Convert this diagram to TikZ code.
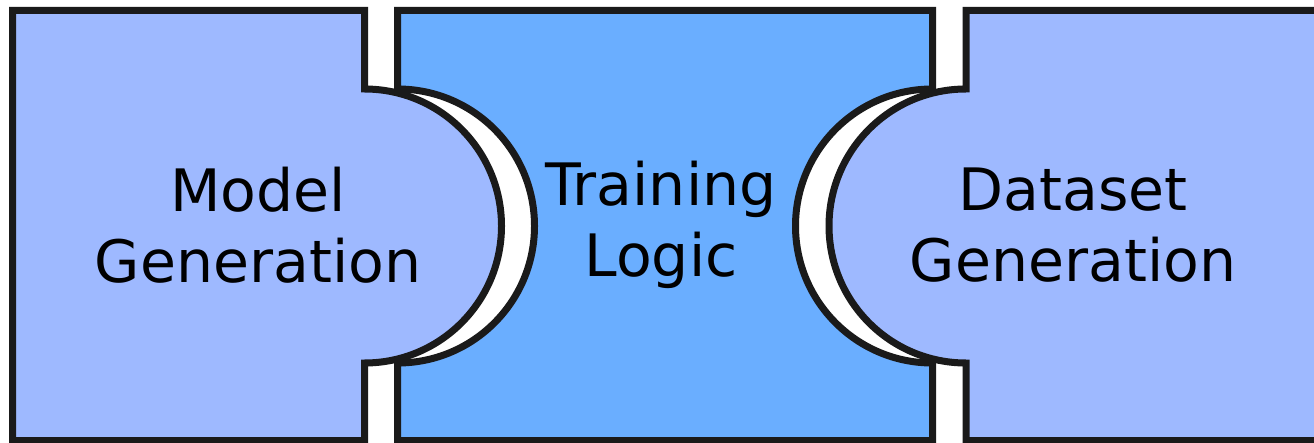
\documentclass[tikz,border=0pt]{standalone}
\usepackage{fontspec}
\newfontfamily\lblfont{DejaVu Sans}
\definecolor{sideblue}{RGB}{158,185,255}
\definecolor{midblue}{RGB}{106,174,255}
\definecolor{edge}{RGB}{26,26,26}
\begin{document}
\begin{tikzpicture}[x=1pt,y=1pt,
  block/.style={draw=edge,line width=7pt,line join=miter},
  lbl/.style={inner sep=0pt,align=center,text=black,
    font=\lblfont\fontsize{58.5}{70.5}\selectfont}]
\useasboundingbox (0,0) rectangle (1314,442);
\clip (0,0) rectangle (1314,442);
% left block: Model Generation
\path[block,fill=sideblue] (12.5,1.5) -- (12.5,431.5) -- (364.5,431.5) -- (364.5,353)
  arc[start angle=90,end angle=-90,radius=137] -- (364.5,1.5) -- cycle;
% middle block: Training Logic
\path[block,fill=midblue] (397.5,1.5) -- (397.5,79)
  arc[start angle=-90,end angle=90,radius=137] -- (397.5,431.5) -- (932.5,431.5) -- (932.5,353)
  arc[start angle=90,end angle=270,radius=137] -- (932.5,1.5) -- cycle;
% right block: Dataset Generation
\path[block,fill=sideblue] (966,1.5) -- (966,79)
  arc[start angle=-90,end angle=-270,radius=137] -- (966,431.5) -- (1325,431.5) -- (1325,1.5) -- cycle;
\node[lbl] (model) at (258,208.85) {\strut Model\\\strut Generation};
\node[lbl] (train) at (661,214.85) {\strut Training\\\strut Logic};
\node[lbl] (data) at (1073,210) {\strut Dataset\\\strut Generation};
\end{tikzpicture}
\end{document}
